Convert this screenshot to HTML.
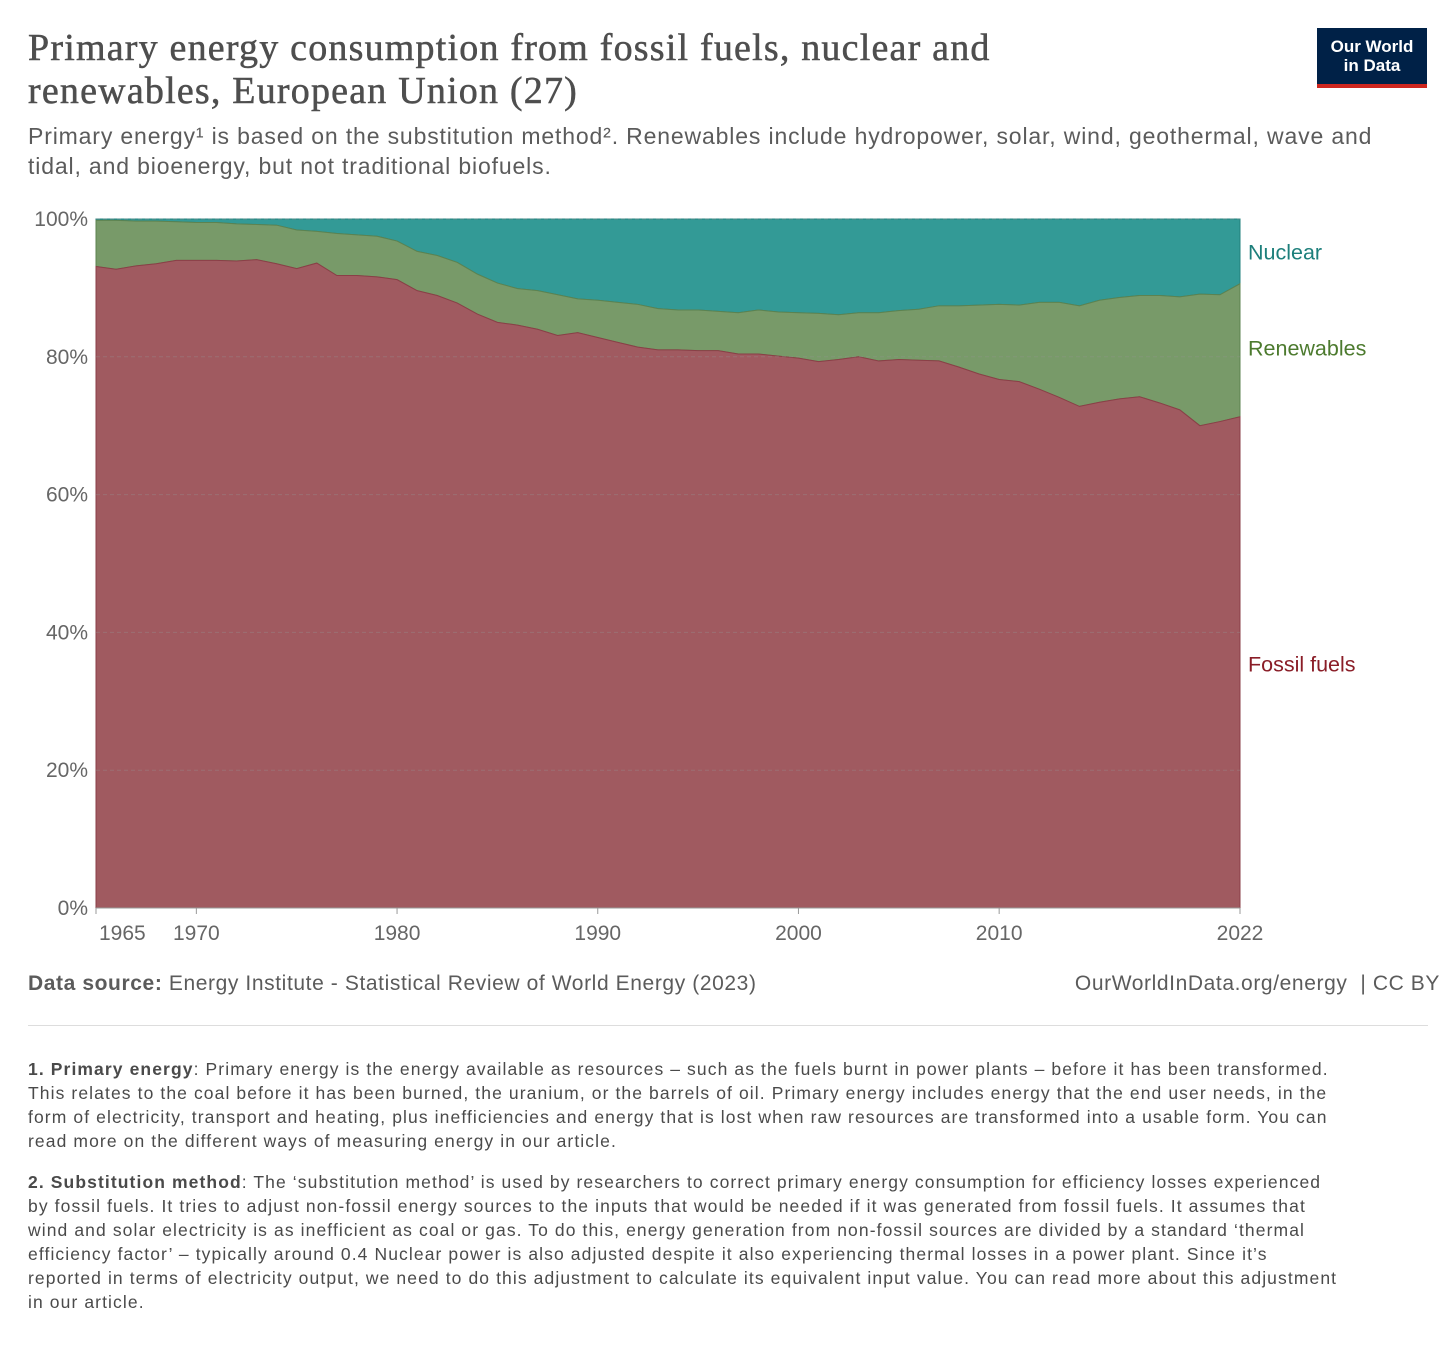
<!DOCTYPE html>
<html><head><meta charset="utf-8"><style>
body{margin:0;width:1456px;height:1350px;background:#fff;font-family:"Liberation Sans",sans-serif;position:relative;overflow:hidden}
.t{position:absolute;left:28px;top:27px;font-family:"Liberation Serif",serif;font-size:38px;line-height:43px;letter-spacing:1.2px;color:#4e4e4e;margin:0;font-weight:normal;-webkit-text-stroke:0.5px #4e4e4e}
.sub{position:absolute;left:28px;top:121px;font-size:23px;line-height:30px;letter-spacing:0.85px;color:#5b5b5b;width:1420px;white-space:nowrap}
.logo{position:absolute;left:1317px;top:28px;width:110px;height:60px;background:#002147;color:#fff;font-size:17px;line-height:19px;text-align:center;box-sizing:border-box;padding-top:9px;font-weight:bold}
.logo:after{content:"";position:absolute;left:0;bottom:0;width:100%;height:4px;background:#ce261e}
.src{position:absolute;top:972px;font-size:21px;letter-spacing:0.6px;color:#5b5b5b;white-space:nowrap}
.hr{position:absolute;left:28px;top:1025px;width:1400px;height:1px;background:#ddd}
.fn{position:absolute;left:28px;font-size:17.5px;letter-spacing:1.1px;line-height:24px;color:#4a4a4a;width:1420px;white-space:nowrap}
</style></head><body>
<h1 class="t">Primary energy consumption from fossil fuels, nuclear and<br>renewables, European Union (27)</h1>
<div class="sub">Primary energy¹ is based on the substitution method². Renewables include hydropower, solar, wind, geothermal, wave and<br>tidal, and bioenergy, but not traditional biofuels.</div>
<div class="logo">Our World<br>in Data</div>
<svg id="chart" style="position:absolute;left:0;top:0" width="1456" height="960"></svg>
<div class="src" style="left:28px"><b>Data source:</b> Energy Institute - Statistical Review of World Energy (2023)</div>
<div class="src" style="right:16px">OurWorldInData.org/energy&nbsp; | CC BY</div>
<div class="hr"></div>
<div class="fn" style="top:1057px"><b>1. Primary energy</b>: Primary energy is the energy available as resources – such as the fuels burnt in power plants – before it has been transformed.<br>This relates to the coal before it has been burned, the uranium, or the barrels of oil. Primary energy includes energy that the end user needs, in the<br>form of electricity, transport and heating, plus inefficiencies and energy that is lost when raw resources are transformed into a usable form. You can<br>read more on the different ways of measuring energy in our article.</div>
<div class="fn" style="top:1170px"><b>2. Substitution method</b>: The ‘substitution method’ is used by researchers to correct primary energy consumption for efficiency losses experienced<br>by fossil fuels. It tries to adjust non-fossil energy sources to the inputs that would be needed if it was generated from fossil fuels. It assumes that<br>wind and solar electricity is as inefficient as coal or gas. To do this, energy generation from non-fossil sources are divided by a standard ‘thermal<br>efficiency factor’ – typically around 0.4 Nuclear power is also adjusted despite it also experiencing thermal losses in a power plant. Since it’s<br>reported in terms of electricity output, we need to do this adjustment to calculate its equivalent input value. You can read more about this adjustment<br>in our article.</div>
<script>
const years=[];for(let y=1965;y<=2022;y++)years.push(y);
const fossil=[93.1,92.7,93.2,93.5,94.0,94.0,94.0,93.9,94.1,93.5,92.8,93.6,91.8,91.8,91.6,91.2,89.6,88.9,87.8,86.2,85.0,84.6,84.0,83.1,83.5,82.8,82.1,81.4,81.0,81.0,80.9,80.9,80.4,80.4,80.1,79.8,79.3,79.6,80.0,79.4,79.6,79.5,79.4,78.5,77.5,76.7,76.4,75.3,74.1,72.8,73.4,73.9,74.2,73.3,72.3,70.0,70.6,71.3];
const renewables=[6.7,7.1,6.5,6.2,5.6,5.5,5.5,5.4,5.1,5.6,5.6,4.6,6.1,5.9,5.9,5.6,5.7,5.8,5.9,5.8,5.7,5.3,5.6,5.9,4.9,5.4,5.8,6.2,6.0,5.8,5.9,5.7,6.0,6.4,6.4,6.6,7.0,6.5,6.4,7.0,7.1,7.4,8.0,8.9,10.0,10.9,11.1,12.6,13.8,14.6,14.8,14.7,14.7,15.6,16.4,19.1,18.4,19.3];
const nuclear=fossil.map((f,i)=>+(100-f-renewables[i]).toFixed(1));
const yTicks=[0,20,40,60,80,100];
const xTicks=[1965,1970,1980,1990,2000,2010,2022];
const X0=96,X1=1240,Y0=908,Y1=219;
const xs=y=>X0+(y-1965)/(2022-1965)*(X1-X0);
const ys=v=>Y0-v/100*(Y0-Y1);
const NS="http://www.w3.org/2000/svg",svg=document.getElementById('chart');
function mk(t,a){const e=document.createElementNS(NS,t);for(const k in a)e.setAttribute(k,a[k]);svg.appendChild(e);return e;}
const lowerS=fossil.map(()=>0),midS=fossil.slice(),topS=fossil.map((f,i)=>f+renewables[i]);
const upperS=topS.map((t,i)=>t+nuclear[i]);
function area(lo,hi,fill,stroke,name){
 let d='M'+years.map((y,i)=>xs(y)+','+ys(hi[i])).join('L');
 for(let i=years.length-1;i>=0;i--)d+='L'+xs(years[i])+','+ys(lo[i]);
 const p=mk('path',{d:d+'Z',fill:fill,stroke:stroke,'stroke-width':1});
 
 
}
area(topS,upperS,'#339a96','#21807c','area-nuclear');
area(midS,topS,'#789a69','#5d8350','area-renewables');
area(lowerS,midS,'#a05a60','#8a3f47','area-fossil-fuels');
yTicks.forEach(v=>{
 const g=mk('line',{x1:X0,x2:X1,y1:ys(v),y2:ys(v),stroke:'rgba(150,150,150,0.35)','stroke-dasharray':'4,3'});
 
 
 const t=mk('text',{x:88,y:ys(v)+7,'text-anchor':'end','font-size':21,fill:'#666','font-family':'Liberation Sans'});
 t.textContent=v+'%';
 
 
});
const ax=mk('line',{x1:X0,x2:X1,y1:Y0,y2:Y0,stroke:'#999'});


xTicks.forEach(y=>{
 const l=mk('line',{x1:xs(y),x2:xs(y),y1:Y0,y2:Y0+6,stroke:'#999'});
 
 
 const t=mk('text',{x:xs(y)+(y==1965?3:0),y:940,'text-anchor':y==1965?'start':'middle','font-size':21,fill:'#666','font-family':'Liberation Sans'});
 t.textContent=y;
 
 
});
const n=years.length-1;
[['Nuclear',(topS[n]+upperS[n])/2,'#1d7f7b','label-nuclear'],['Renewables',(midS[n]+topS[n])/2+0.4,'#4c7a2e','label-renewables'],['Fossil fuels',35.5,'#8a1d27','label-fossil-fuels']].forEach(a=>{
 const t=mk('text',{x:1248,y:ys(a[1])+8,'font-size':21.5,fill:a[2],'font-family':'Liberation Sans'});
 t.textContent=a[0];
 
 
});
</script>
</body></html>
